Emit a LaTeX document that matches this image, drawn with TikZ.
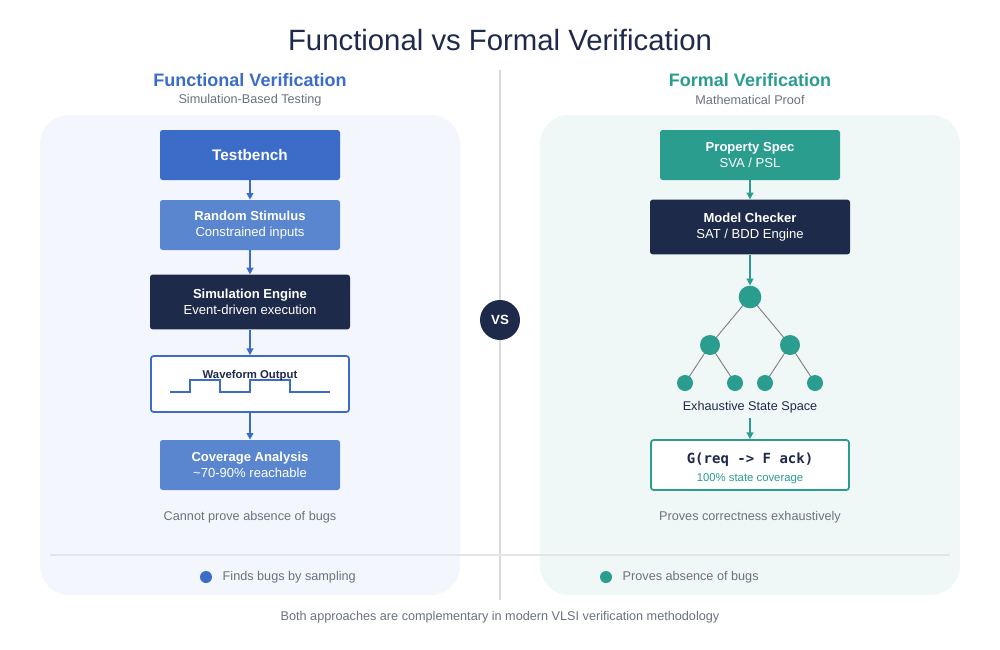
\documentclass[tikz,border=0pt]{standalone}
\usepackage{fontspec}
\setmainfont{Liberation Sans}
\setmonofont{DejaVu Sans Mono}
\usetikzlibrary{arrows.meta}
\definecolor{navy}{HTML}{1E2A4A}
\definecolor{fblue}{HTML}{3A6CC8}
\definecolor{lblue}{HTML}{5A86D0}
\definecolor{teal}{HTML}{2A9D8F}
\definecolor{gtxt}{HTML}{6B7280}
\begin{document}
\begin{tikzpicture}[x=0.75pt,y=-0.75pt,
 box/.style={rounded corners=2pt,align=center,text=white,inner sep=0pt},
 arr/.style={-{Triangle[length=5pt,width=5pt]},line width=1.2pt},
 st/.style={circle,fill=teal,inner sep=0pt},
 ed/.style={draw=gray,line width=0.7pt},
 small/.style={font=\fontsize{9.5}{11}\selectfont,text=gtxt}]
\path[use as bounding box,fill=white] (0,0) rectangle (1000,650);
\node (title) at (500,40) {\fontsize{22}{26}\selectfont\color{navy}Functional vs Formal Verification};
\fill[fblue!6,rounded corners=22pt] (40,115) rectangle (460,595);
\fill[teal!7,rounded corners=22pt] (540,115) rectangle (960,595);
\draw[black!15,line width=0.8pt] (500,70) -- (500,600);
\draw[black!10,line width=0.8pt] (50,555) -- (950,555);
\node[circle,fill=navy,minimum size=30pt,inner sep=0pt,text=white,font=\bfseries\fontsize{10}{12}\selectfont] (vs) at (500,320) {VS};
% headings
\node[text=fblue,font=\bfseries\fontsize{13.5}{16}\selectfont] (lh) at (250,80) {Functional Verification};
\node[small] (ls) at (250,100) {Simulation-Based Testing};
\node[text=teal,font=\bfseries\fontsize{13.5}{16}\selectfont] (rh) at (750,80) {Formal Verification};
\node[small] (rs) at (750,100) {Mathematical Proof};
% left column
\node[box,fill=fblue,minimum width=135pt,minimum height=37.5pt,font=\bfseries\fontsize{11.5}{14}\selectfont] (tb) at (250,155) {Testbench};
\node[box,fill=lblue,minimum width=135pt,minimum height=37.5pt,font=\fontsize{9.8}{12}\selectfont] (rsn) at (250,225) {\textbf{Random Stimulus}\\Constrained inputs};
\node[box,fill=navy,minimum width=150pt,minimum height=41pt,font=\fontsize{9.8}{12}\selectfont] (se) at (250,302) {\textbf{Simulation Engine}\\Event-driven execution};
\node[box,draw=fblue,line width=1.3pt,fill=white,minimum width=148.5pt,minimum height=42pt] (wf) at (250,384) {};
\draw[fblue,line width=1.2pt] (170,392) -- (190,392) -- (190,380) -- (220,380) -- (220,392) -- (250,392) -- (250,380) -- (290,380) -- (290,392) -- (330,392);
\node[text=navy,font=\bfseries\fontsize{8.5}{10}\selectfont] (wt) at (250,376) {Waveform Output};
\node[box,fill=lblue,minimum width=135pt,minimum height=37.5pt,font=\fontsize{9.8}{12}\selectfont] (cov) at (250,465) {\textbf{Coverage Analysis}\\\textasciitilde70-90\% reachable};
\draw[arr,fblue] (tb) -- (rsn);
\draw[arr,fblue] (rsn) -- (se);
\draw[arr,fblue] (se) -- (wf);
\draw[arr,fblue] (wf) -- (cov);
\node[small] (lc) at (250,517) {Cannot prove absence of bugs};
% right column
\node[box,fill=teal,minimum width=135pt,minimum height=37.5pt,font=\fontsize{9.8}{12}\selectfont] (ps) at (750,155) {\textbf{Property Spec}\\SVA / PSL};
\node[box,fill=navy,minimum width=150pt,minimum height=41pt,font=\fontsize{9.8}{12}\selectfont] (mc) at (750,227) {\textbf{Model Checker}\\SAT / BDD Engine};
\draw[ed] (750,297) -- (710,345) -- (685,383);
\draw[ed] (710,345) -- (735,383);
\draw[ed] (750,297) -- (790,345) -- (765,383);
\draw[ed] (790,345) -- (815,383);
\node[st,minimum size=17pt] (r) at (750,297) {};
\node[st,minimum size=15pt] (c1) at (710,345) {};
\node[st,minimum size=15pt] (c2) at (790,345) {};
\node[st,minimum size=12pt] (l1) at (685,383) {};
\node[st,minimum size=12pt] (l2) at (735,383) {};
\node[st,minimum size=12pt] (l3) at (765,383) {};
\node[st,minimum size=12pt] (l4) at (815,383) {};
\node[text=navy,font=\fontsize{9.5}{11}\selectfont] (ess) at (750,407) {Exhaustive State Space};
\node[box,draw=teal,line width=1.3pt,fill=white,minimum width=148.5pt,minimum height=37.5pt] (fm) at (750,465) {};
\node[text=navy,font=\ttfamily\bfseries\fontsize{10.5}{12}\selectfont] (fmt) at (750,460) {G(req -> F ack)};
\node[text=teal,font=\fontsize{8.5}{10}\selectfont] (fms) at (750,479) {100\% state coverage};
\draw[arr,teal] (ps) -- (mc);
\draw[arr,teal] (mc) -- (r);
\draw[arr,teal] (ess) -- (fm);
\node[small] (rc) at (750,517) {Proves correctness exhaustively};
% legend
\node[circle,fill=fblue,minimum size=9pt,inner sep=0pt] (d1) at (206,577) {};
\node[small,anchor=west] (t1) at (218,577) {Finds bugs by sampling};
\node[circle,fill=teal,minimum size=9pt,inner sep=0pt] (d2) at (606,577) {};
\node[small,anchor=west] (t2) at (618,577) {Proves absence of bugs};
\node[small] (ft) at (500,617) {Both approaches are complementary in modern VLSI verification methodology};
\end{tikzpicture}
\end{document}
